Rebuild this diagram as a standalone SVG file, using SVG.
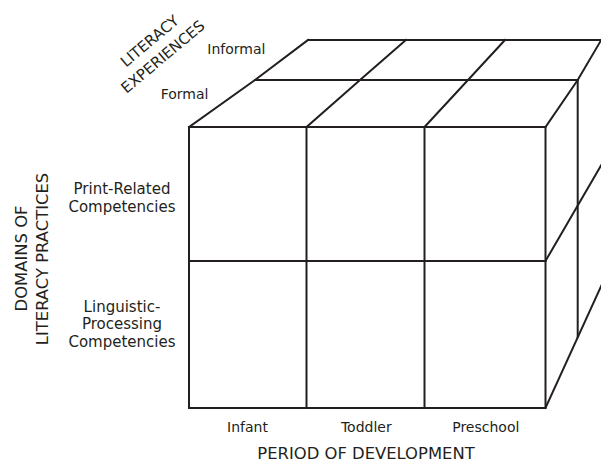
<svg xmlns="http://www.w3.org/2000/svg" width="601" height="462" viewBox="0 0 601 462">
  <style>
    .edge { fill: none; stroke: #231f20; stroke-width: 2; stroke-linecap: square; stroke-linejoin: miter; }
    .lbl { font-family: "DejaVu Sans", "Liberation Sans", sans-serif; fill: #231f20; }
    .sm { font-size: 14px; }
    .md { font-size: 15px; }
    .cap { font-size: 16.4px; }
    .tilt { font-size: 15px; }
    .mid { text-anchor: middle; }
  </style>
  <rect width="601" height="462" fill="#ffffff"/>

  <!-- cube wireframe -->
  <g id="cube" class="edge">
    <!-- front face -->
    <g id="front-face">
      <rect x="189" y="127" width="356.5" height="281"/>
      <line x1="189" y1="261" x2="545.5" y2="261"/>
      <line x1="306.5" y1="127" x2="306.5" y2="408"/>
      <line x1="424.5" y1="127" x2="424.5" y2="408"/>
    </g>
    <!-- top face -->
    <g id="top-face">
      <polyline points="189,127 255,80 308,40"/>
      <polyline points="306.5,127 360,80 406,40"/>
      <polyline points="424.5,127 468,80 505,40"/>
      <polyline points="545.5,127 577.7,80 603,37"/>
      <line x1="255" y1="80" x2="577.7" y2="80"/>
      <line x1="308" y1="40" x2="605" y2="40"/>
    </g>
    <!-- right face -->
    <g id="right-face">
      <line x1="577.7" y1="80" x2="577.7" y2="337"/>
      <line x1="545.5" y1="261" x2="603" y2="162"/>
      <line x1="545.5" y1="408" x2="603" y2="282"/>
    </g>
  </g>

  <!-- depth axis labels -->
  <g id="axis-experiences">
    <g transform="translate(153,45) rotate(-40)">
      <text class="lbl tilt mid" x="0" y="0">LITERACY</text>
      <text class="lbl tilt mid" x="0" y="20.5">EXPERIENCES</text>
    </g>
    <text class="lbl sm" x="207.3" y="54">Informal</text>
    <text class="lbl sm" x="160.7" y="99">Formal</text>
  </g>

  <!-- vertical axis labels -->
  <g id="axis-domains">
    <text class="lbl cap mid" transform="translate(26.7,258.5) rotate(-90)">DOMAINS OF</text>
    <text class="lbl cap mid" transform="translate(48.3,259) rotate(-90)">LITERACY PRACTICES</text>
    <text class="lbl md mid" x="122" y="193.5">Print-Related</text>
    <text class="lbl md mid" x="122" y="211.5">Competencies</text>
    <text class="lbl md mid" x="122" y="311.5">Linguistic-</text>
    <text class="lbl md mid" x="122" y="329.3">Processing</text>
    <text class="lbl md mid" x="122" y="346.7">Competencies</text>
  </g>

  <!-- horizontal axis labels -->
  <g id="axis-period">
    <text class="lbl sm mid" x="247.5" y="431.7">Infant</text>
    <text class="lbl sm mid" x="366.3" y="431.7">Toddler</text>
    <text class="lbl sm mid" x="485.8" y="431.7">Preschool</text>
    <text class="lbl cap mid" x="366" y="458.5">PERIOD OF DEVELOPMENT</text>
  </g>
</svg>
